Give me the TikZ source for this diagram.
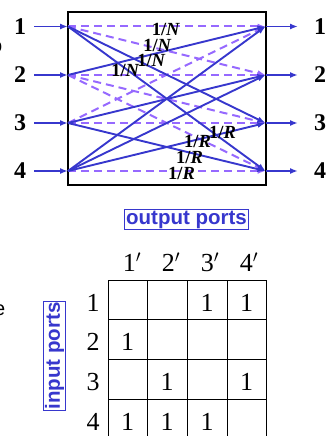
\documentclass[tikz,border=0pt]{standalone}
\usepackage{fontspec}
\setmainfont{Liberation Serif}
\setsansfont{Liberation Sans}
\usetikzlibrary{arrows.meta}
\definecolor{myblue}{RGB}{55,55,205}
\definecolor{mypurple}{RGB}{150,105,255}
\tikzset{
  sol/.style={draw=myblue, line width=1.9pt, -{Latex[length=8pt,width=6pt]}},
  dsh/.style={draw=mypurple, line width=2pt, dash pattern=on 8pt off 5pt, -{Latex[length=8pt,width=6pt]}},
  portlbl/.style={font=\fontsize{24}{24}\selectfont\bfseries, inner sep=0pt},
  frac/.style={font=\fontsize{18.5}{18.5}\selectfont\bfseries, inner sep=0pt},
  cell/.style={font=\fontsize{26}{26}\selectfont, inner sep=0pt},
  tag/.style={draw=myblue, line width=1pt, text=myblue, font=\fontsize{20.5}{20.5}\selectfont\sffamily\bfseries, inner sep=1.2pt}
}
\begin{document}
\begin{tikzpicture}[x=1pt,y=-1pt]
\useasboundingbox (0,0) rectangle (328,436);
% cropped fragments at left edge
\node[anchor=east, inner sep=0pt, font=\fontsize{20}{20}\selectfont\sffamily] (fragA) at (2.5,47) {o};
\node[anchor=east, inner sep=0pt, font=\fontsize{20}{20}\selectfont\sffamily] (fragB) at (5.5,310) {e};
% switch box
\node[draw=black, line width=2.2pt, minimum width=197.5pt, minimum height=173pt, inner sep=0pt] (box) at (167,98.5) {};
% ports
\foreach \i/\y in {1/26.5,2/75,3/123,4/171}{
  \coordinate (L\i) at (68,\y);
  \coordinate (R\i) at (265.5,\y);
  \coordinate (A\i) at (34,\y);
  \coordinate (B\i) at (298,\y);
  \node[portlbl] (in\i) at (20,\y) {\i};
  \node[portlbl] (out\i) at (320,\y) {\i};
}
% dashed connections
\foreach \a/\b in {1/1,1/2,2/2,2/3,2/4,3/1,3/3,4/4}{
  \draw[dsh] (L\a) -- (R\b);
}
% solid connections
\foreach \a/\b in {1/3,1/4,2/1,3/2,3/4,4/1,4/2,4/3}{
  \draw[sol] (L\a) -- (R\b);
}
\foreach \i in {1,2,3,4}{
  \draw[sol] (A\i) -- (L\i);
  \draw[sol] (R\i) -- (B\i);
}
% labels
\node[frac] (n1) at (166,29) {1/\textit{N}};
\node[frac] (n2) at (157.5,45) {1/\textit{N}};
\node[frac] (n3) at (151.5,60) {1/\textit{N}};
\node[frac] (n4) at (125.5,70) {1/\textit{N}};
\node[frac] (r1) at (222.5,132.5) {1/\textit{R}};
\node[frac] (r2) at (197.5,141) {1/\textit{R}};
\node[frac] (r3) at (189.5,157) {1/\textit{R}};
\node[frac] (r4) at (181.5,173) {1/\textit{R}};
% matrix part
\node[tag] (outp) at (186.5,219.5) {output ports};
\node[tag, rotate=90] (inp) at (54.5,356) {input ports};
\foreach \x in {108,147,187,227,266}{
  \draw[line width=1pt] (\x,280) -- (\x,440);
}
\foreach \y in {280,319,359,399,439}{
  \draw[line width=1pt] (108,\y) -- (266,\y);
}
\foreach \i/\x in {1/132,2/171,3/210,4/249}{
  \node[cell] (c\i) at (\x,262) {\i$'$};
}
\foreach \i/\y in {1/303,2/342,3/382,4/422}{
  \node[cell] (rw\i) at (93,\y) {\i};
}
\node[cell] (m13) at (207,303) {1};
\node[cell] (m14) at (246.5,303) {1};
\node[cell] (m21) at (127.5,342) {1};
\node[cell] (m32) at (167,382) {1};
\node[cell] (m34) at (246.5,382) {1};
\node[cell] (m41) at (127.5,422) {1};
\node[cell] (m42) at (167,422) {1};
\node[cell] (m43) at (207,422) {1};
\end{tikzpicture}
\end{document}
